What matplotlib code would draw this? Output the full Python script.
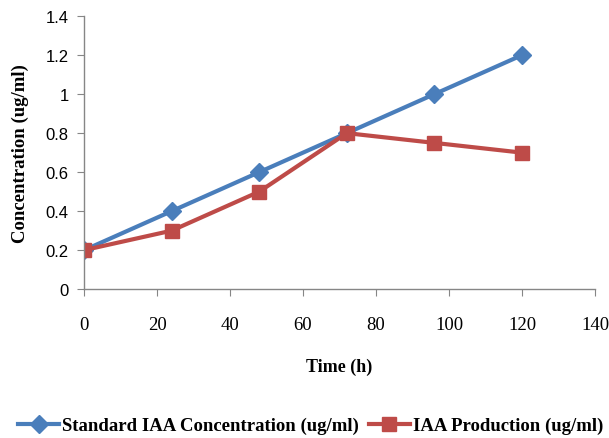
import matplotlib
matplotlib.use("Agg")
import matplotlib.pyplot as plt

# data
time_h = [0, 24, 48, 72, 96, 120]
standard_iaa = [0.2, 0.4, 0.6, 0.8, 1.0, 1.2]
iaa_production = [0.2, 0.3, 0.5, 0.8, 0.75, 0.7]
x_ticks = [0, 20, 40, 60, 80, 100, 120, 140]
y_ticks = [0, 0.2, 0.4, 0.6, 0.8, 1.0, 1.2, 1.4]
y_labels = ["0", "0.2", "0.4", "0.6", "0.8", "1", "1.2", "1.4"]

BLUE = "#4A7EBB"
RED = "#BE4B48"
AXIS = "#868686"
SERIF = "Liberation Serif"
SANS = "Liberation Sans"

fig = plt.figure(figsize=(6.09, 4.39), dpi=100)
ax = fig.add_axes([0.138, 0.339, 0.839, 0.622])

ax.plot(time_h, standard_iaa, color=BLUE, lw=3, marker="D", ms=9,
        label="Standard IAA Concentration (ug/ml)")
ax.plot(time_h, iaa_production, color=RED, lw=3, marker="s", ms=10,
        label="IAA Production (ug/ml)")

ax.set_xlim(0, 140)
ax.set_ylim(0, 1.4)
ax.set_xticks(x_ticks)
ax.set_yticks(y_ticks)
ax.set_yticklabels(y_labels)
for lab in ax.get_xticklabels():
    lab.set_fontfamily(SERIF)
    lab.set_fontsize(13.5)
for lab in ax.get_yticklabels():
    lab.set_fontfamily(SANS)
    lab.set_fontsize(12)

for s in ("top", "right"):
    ax.spines[s].set_visible(False)
for s in ("left", "bottom"):
    ax.spines[s].set_color(AXIS)
    ax.spines[s].set_linewidth(1)
ax.tick_params(axis="both", color=AXIS, length=5, direction="out", pad=6)
ax.tick_params(axis="x", pad=14)
ax.margins(0)

ax.set_xlabel("Time (h)", fontfamily=SERIF, fontweight="bold", fontsize=13, labelpad=18)
ax.set_ylabel("Concentration (ug/ml)", fontfamily=SERIF, fontweight="bold", fontsize=13.5, labelpad=12)

fig.legend(loc="lower center", bbox_to_anchor=(0.51, -0.03), ncol=2, frameon=False,
           prop={"family": SERIF, "weight": "bold", "size": 13.5},
           handlelength=2.2, handletextpad=0.15, columnspacing=0.5)

fig.savefig("out.png", dpi=100)
